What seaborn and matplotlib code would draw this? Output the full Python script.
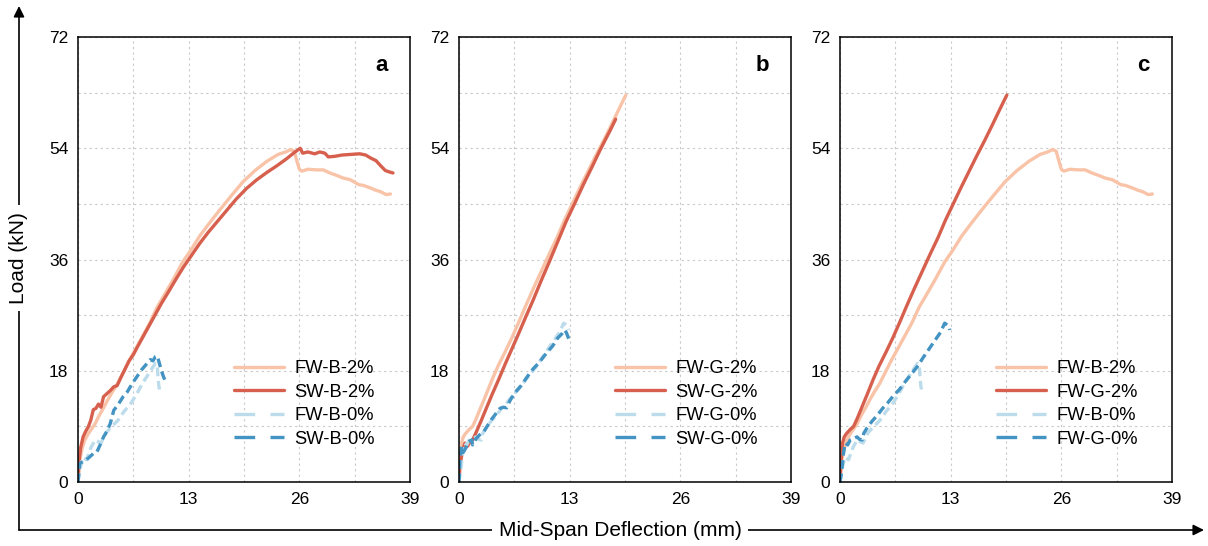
import matplotlib
matplotlib.use("Agg")
import matplotlib.pyplot as plt
from matplotlib.patches import FancyArrowPatch
from matplotlib.ticker import MultipleLocator
import seaborn as sns
import pandas as pd

# ---------------- data ----------------
fwb2_x = [0, 0.2, 0.5, 0.8, 1.2, 1.6, 2.0, 2.5, 3.0, 3.5, 4.0, 4.6, 5.2, 6.0, 6.8, 7.6, 8.5, 9.3,
          10.2, 11.2, 12.3, 13.3, 14.3, 15.5, 16.7, 18.0, 19.4, 20.8, 22.2, 23.5, 24.4, 25.0, 25.4,
          25.7, 26.0, 26.3, 27.0, 28.0, 28.8, 29.6, 30.4, 31.1, 32.0, 33.0, 33.5, 34.3, 35.0, 35.5,
          36.2, 36.7]
fwb2_y = [0, 3.5, 5.5, 6.8, 7.8, 8.6, 9.4, 10.8, 12.0, 13.3, 14.5, 15.8, 17.4, 19.6, 21.6, 23.6,
          25.9, 28.3, 30.4, 32.8, 35.6, 37.6, 39.8, 42.0, 44.1, 46.3, 48.6, 50.4, 51.9, 53.0, 53.4,
          53.8, 53.5, 52.0, 50.6, 50.3, 50.6, 50.5, 50.5, 50.0, 49.6, 49.2, 48.9, 48.1, 48.0, 47.6,
          47.2, 47.0, 46.5, 46.6]

swb2_x = [0, 0.1, 0.3, 0.6, 0.9, 1.2, 1.5, 1.8, 2.1, 2.4, 2.7, 3.0, 3.4, 3.8, 4.2, 4.6, 5.0, 5.5,
          6.0, 6.5, 7.0, 7.6, 8.2, 9.0, 9.8, 10.6, 11.5, 12.4, 13.3, 14.3, 15.3, 16.4, 17.5, 18.6,
          19.8, 21.0, 22.2, 23.4, 24.5, 25.4, 26.1, 26.4, 27.0, 27.8, 28.4, 29.0, 29.4, 30.2, 31.0,
          32.0, 33.1, 33.8, 34.4, 35.0, 35.6, 36.1, 36.5, 37.0]
swb2_y = [0, 3.0, 5.5, 7.3, 8.2, 8.9, 10.0, 11.7, 11.9, 12.6, 12.1, 13.8, 14.3, 14.8, 15.4, 15.6,
          16.8, 18.2, 19.6, 20.6, 21.9, 23.4, 24.9, 26.9, 28.9, 30.7, 32.8, 34.8, 36.6, 38.6, 40.4,
          42.2, 44.0, 45.8, 47.5, 48.9, 50.1, 51.2, 52.3, 53.3, 54.0, 53.2, 53.4, 53.1, 53.4, 53.2,
          52.6, 52.7, 52.9, 53.0, 53.1, 52.9, 52.4, 52.0, 51.1, 50.4, 50.2, 50.0]

fwb0_x = [0, 0.3, 0.6, 1.0, 1.5, 2.0, 2.7, 3.3, 4.0, 4.7, 5.4, 6.1, 6.8, 7.5, 8.2, 8.8, 9.1, 9.3,
          9.4, 9.5, 9.6]
fwb0_y = [0, 2.5, 4.0, 3.6, 5.5, 6.8, 6.3, 8.0, 9.0, 10.0, 11.4, 12.5, 14.0, 15.8, 17.3, 18.6,
          19.2, 19.0, 17.0, 15.5, 14.8]

swb0_x = [0, 0.2, 0.6, 1.0, 1.4, 1.8, 2.2, 2.6, 3.0, 3.4, 3.8, 4.2, 4.7, 5.3, 5.8, 6.4, 6.9, 7.5,
          8.0, 8.5, 8.8, 9.1, 9.3, 9.4, 9.6, 9.8, 10.0, 10.2]
swb0_y = [0, 3.0, 3.3, 3.6, 4.1, 4.6, 4.8, 6.0, 7.3, 8.2, 9.5, 11.6, 12.5, 13.8, 14.6, 16.0, 17.0,
          18.2, 19.0, 19.8, 19.6, 20.3, 20.4, 20.0, 19.0, 18.0, 17.2, 16.5]

fwg2_x = [0, 0.1, 0.3, 0.5, 0.8, 1.2, 1.6, 2.0, 2.6, 3.2, 3.9, 4.6, 5.4, 6.2, 7.0, 7.9, 8.8, 9.7,
          10.6, 11.5, 12.4, 13.3, 14.2, 15.1, 16.0, 16.9, 17.8, 18.6, 19.2, 19.6]
fwg2_y = [0, 3.0, 6.3, 7.3, 7.9, 8.5, 9.0, 10.2, 12.2, 14.2, 16.6, 18.8, 21.0, 23.3, 25.8, 28.7,
          31.5, 34.2, 36.9, 39.5, 42.4, 45.0, 47.6, 50.1, 52.6, 55.0, 57.5, 59.8, 61.5, 62.6]

swg2_x = [0, 0.1, 0.4, 0.7, 1.0, 1.3, 1.6, 2.0, 2.6, 3.2, 3.9, 4.6, 5.4, 6.2, 7.0, 7.9, 8.7, 9.6,
          10.6, 11.6, 12.6, 13.6, 14.6, 15.6, 16.5, 17.2, 17.8, 18.4]
swg2_y = [0, 2.4, 5.0, 6.3, 5.8, 6.5, 6.8, 8.0, 9.9, 11.9, 14.2, 16.4, 19.0, 21.5, 24.0, 26.9,
          29.4, 32.4, 35.6, 38.9, 42.2, 45.1, 48.1, 50.9, 53.5, 55.4, 57.0, 58.7]

fwg0_x = [0, 0.2, 0.4, 0.6, 0.9, 1.2, 1.6, 2.0, 2.3, 2.6, 2.8, 3.2, 3.8, 4.4, 5.0, 5.6, 6.3, 7.0,
          7.7, 8.4, 9.1, 9.8, 10.5, 11.2, 11.8, 12.3, 12.6, 12.8, 12.9]
fwg0_y = [0, 1.8, 4.5, 6.3, 6.0, 6.8, 7.0, 7.3, 6.9, 6.8, 7.9, 8.8, 9.9, 10.8, 11.9, 12.8, 14.0,
          15.0, 16.3, 17.5, 18.7, 20.2, 21.6, 23.0, 24.2, 25.7, 25.4, 25.1, 24.6]

swg0_x = [0, 0.1, 0.3, 0.5, 0.8, 1.1, 1.5, 1.6, 2.0, 2.4, 2.8, 3.3, 3.8, 4.3, 4.8, 5.2, 5.6, 6.0,
          6.6, 7.3, 8.0, 8.7, 9.4, 10.3, 11.0, 11.6, 12.1, 12.4, 12.6, 12.8, 13.0]
swg0_y = [0, 3.5, 5.7, 4.8, 5.5, 6.5, 6.8, 6.0, 7.0, 7.6, 7.9, 9.0, 10.1, 11.0, 11.9, 12.1, 12.0,
          13.2, 14.5, 15.6, 17.0, 18.3, 19.3, 20.9, 22.0, 23.3, 24.0, 24.6, 24.2, 23.5, 22.7]

series = {
    "FW-B-2%": (fwb2_x, fwb2_y), "SW-B-2%": (swb2_x, swb2_y),
    "FW-B-0%": (fwb0_x, fwb0_y), "SW-B-0%": (swb0_x, swb0_y),
    "FW-G-2%": (fwg2_x, fwg2_y), "SW-G-2%": (swg2_x, swg2_y),
    "FW-G-0%": (fwg0_x, fwg0_y), "SW-G-0%": (swg0_x, swg0_y),
}

panels = [
    ("a", ["FW-B-2%", "SW-B-2%", "FW-B-0%", "SW-B-0%"]),
    ("b", ["FW-G-2%", "SW-G-2%", "FW-G-0%", "SW-G-0%"]),
    ("c", ["FW-B-2%", "FW-G-2%", "FW-B-0%", "FW-G-0%"]),
]

x_ticks = [0, 13, 26, 39]
y_ticks = [0, 18, 36, 54, 72]

colors = ["#F9C3A8", "#D6604D", "#BCDCEC", "#4393C3"]
styles = ["-", "-", (0, (2.6, 1.4)), (0, (2.6, 1.4))]

# ---------------- style ----------------
sns.set_style("white")
plt.rcParams["font.family"] = ["Liberation Sans", "DejaVu Sans"]
plt.rcParams["text.color"] = "black"
plt.rcParams["xtick.color"] = "black"
plt.rcParams["ytick.color"] = "black"
plt.rcParams["xtick.labelcolor"] = "black"
plt.rcParams["ytick.labelcolor"] = "black"

fig = plt.figure(figsize=(12.08, 5.46), dpi=100)
lefts = [78, 459, 840]
W, H = 1208, 546

for (tag, names), lpx in zip(panels, lefts):
    ax = fig.add_axes([lpx / W, 1 - 482 / H, 332 / W, 445 / H])
    for name, c, ls in zip(names, colors, styles):
        xs, ys = series[name]
        df = pd.DataFrame({"x": xs, "y": ys})
        sns.lineplot(data=df, x="x", y="y", ax=ax, color=c, linewidth=2.4,
                     linestyle=ls, label=name, sort=False, estimator=None)
    ax.set_xlim(0, 39)
    ax.set_ylim(0, 72)
    ax.set_xticks(x_ticks)
    ax.set_yticks(y_ticks)
    ax.xaxis.set_minor_locator(MultipleLocator(6.5))
    ax.yaxis.set_minor_locator(MultipleLocator(9))
    ax.grid(which="both", linestyle=(0, (2, 3)), color="#c8c8c8", linewidth=0.8)
    ax.set_axisbelow(True)
    ax.tick_params(which="both", direction="in", length=5, width=1, labelsize=12.5,
                   top=False, right=False, pad=7)
    for sp in ax.spines.values():
        sp.set_linewidth(1.1)
        sp.set_color("black")
    ax.set_xlabel("")
    ax.set_ylabel("")
    ax.text(0.915, 0.935, tag, transform=ax.transAxes, fontsize=16, fontweight="bold",
            ha="center", va="center")
    leg = ax.legend(loc="upper left", bbox_to_anchor=(0.448, 0.29), frameon=False,
                    fontsize=13.2, handlelength=2.7, handletextpad=0.6, labelspacing=0.35,
                    borderaxespad=0)
    for hl in leg.get_lines()[2:]:
        hl.set_linestyle((0, (6.2, 4.6)))

# big axis arrows
ax_x = 19 / W
y_base = 1 - 530 / H
fig.add_artist(FancyArrowPatch((ax_x, y_base), (ax_x, 1 - 6 / H), transform=fig.transFigure,
                               arrowstyle="-|>", mutation_scale=16, linewidth=1.2,
                               color="black", shrinkA=0, shrinkB=0))
fig.add_artist(FancyArrowPatch((ax_x, y_base), (1204 / W, y_base), transform=fig.transFigure,
                               arrowstyle="-|>", mutation_scale=16, linewidth=1.2,
                               color="black", shrinkA=0, shrinkB=0))
fig.text(ax_x, 1 - 258 / H, "Load (kN)", rotation=90, ha="center", va="center", fontsize=15,
         bbox=dict(facecolor="white", edgecolor="none", pad=5))
fig.text(620 / W, y_base, "Mid-Span Deflection (mm)", ha="center", va="center", fontsize=15,
         bbox=dict(facecolor="white", edgecolor="none", pad=5))

fig.savefig("out.png", dpi=100)
